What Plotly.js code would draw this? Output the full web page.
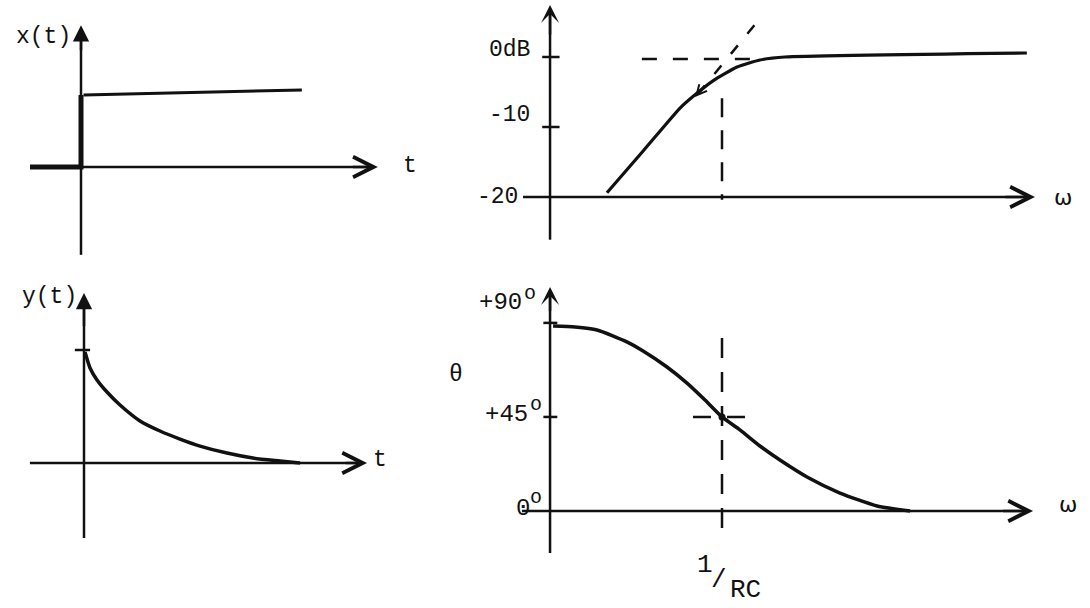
<!DOCTYPE html>
<html><head><meta charset="utf-8">
<script src="https://cdn.plot.ly/plotly-3.0.1.min.js"></script>
<style>html,body{margin:0;padding:0;background:#fff;} #chart{width:1090px;height:608px;}</style>
</head><body><div id="chart"></div>
<script>
// ---------------- DATA ----------------
// Panel 1 : step input x(t)
const stepT    = [-1, 0, 0];
const stepX    = [0, 0, 1];
const stepTopT = [0.05, 4.33];
const stepTopX = [1, 1.07];

// Panel 2 : output y(t) (decaying exponential)
const respT = [0.02, 0.118, 0.255, 0.451, 0.706, 1.098, 1.490, 1.882, 2.275, 2.804, 3.314, 3.843, 4.235];
const respY = [0.982, 0.841, 0.735, 0.628, 0.513, 0.372, 0.283, 0.212, 0.150, 0.088, 0.044, 0.018, 0];
const respTick = [1];

// Panel 3 : magnitude (dB) vs omega (normalised, 1 = 1/RC)
const magW  = [0.110, 0.222, 0.447, 0.596, 0.841, 1.334, 2.07, 3.35, 347];
const magDB = [-19.4, -13.36, -7.3, -5.4, -3.4, -1.43, -0.43, 0, 0.57];
const magTicks  = [0, -10];
const magLabels = ['0dB', '-10', '-20'];
const asymW  = [0.63, 1.96];     // dashed asymptote (slope part continued)
const asymDB = [-5.3, 5.0];
const flatW  = [0.215, 1.88];    // dashed 0 dB asymptote
const flatDB = [-0.3, -0.3];
const cornerW = 1;               // omega = 1/RC
const cornerDB = [-5.9, -20.4];

// Panel 4 : phase (degrees) vs omega
const phW   = [0.0391, 0.0596, 0.0908, 0.161, 0.220, 0.348, 0.511, 0.722, 1, 1.41, 2.07, 3.04, 5.11, 9.62, 19.6, 36.9];
const phDeg = [88.5, 88.0, 86.6, 80.9, 76.6, 68.9, 61.2, 53.1, 45, 38.8, 31.1, 24.4, 16.3, 8.6, 2.4, 0];
const phTicks  = [90, 45];
const phLabels = ['+90', '+45', '0'];
const degMark  = 'o';
const phCornerDeg = [82.8, -10.5];
const phCrossW = [0.573, 1.71];

// ---------------- LAYOUT HELPERS ----------------
const W = 1090, H = 608;
const FONT = 'Liberation Mono, Courier New, monospace';
const INK = '#111';
function axes(px0, px1, py0, py1, ox, sx, oy, sy, isLog) {
  return {
    x: {domain: [px0 / W, px1 / W], range: [(px0 - ox) / sx, (px1 - ox) / sx],
        type: isLog ? 'log' : 'linear', visible: false, fixedrange: true},
    y: {domain: [1 - py1 / H, 1 - py0 / H], range: [(oy - py1) / sy, (oy - py0) / sy],
        visible: false, fixedrange: true}
  };
}
const A1 = axes(0, 440, 0, 262, 81, 51, 167, 72, false);
const A2 = axes(0, 440, 270, 608, 84, 51, 463, 113, false);
const A3 = axes(440, 1090, 0, 262, 722, 120, 57, 7, true);
const A4 = axes(440, 1090, 270, 608, 722, 120, 511, 2.09, true);

const L = Math.log10;
const traces = [];
function line(xs, ys, ax, w, dash, extra) {
  traces.push(Object.assign({x: xs, y: ys, xaxis: ax[0], yaxis: ax[1], mode: 'lines',
    line: {color: INK, width: w, dash: dash || 'solid'}, hoverinfo: 'skip', cliponaxis: false}, extra || {}));
}
const P1 = ['x', 'y'], P2 = ['x2', 'y2'], P3 = ['x3', 'y3'], P4 = ['x4', 'y4'];
const axW3 = Math.pow(10, -1.433);   // omega position of the vertical axes (right panels)

// axis lines (drawn as traces)
line([-1, 5.7], [0, 0], P1, 2.5);
line([0, 0], [-1.22, 1.9], P1, 2.5);
line([-1.06, 5.43], [0, 0], P2, 2.5);
line([0, 0], [-0.664, 1.44], P2, 2.5);
line([Math.pow(10, -1.658), Math.pow(10, 2.57)], [-20, -20], P3, 2.5);
line([axW3, axW3], [-26.1, 6.8], P3, 2.5);
line([Math.pow(10, -1.667), Math.pow(10, 2.555)], [0, 0], P4, 2.5);
line([axW3, axW3], [-20.1, 104], P4, 2.5);

// Panel 1
line(stepT, stepX, P1, 5);
line(stepTopT, stepTopX, P1, 3);
// Panel 2
line(respT, respY, P2, 3.5, 'solid', {line: {color: INK, width: 3.5, shape: 'spline', smoothing: 0.6}});
respTick.forEach(v => line([-0.18, 0.12], [v, v], P2, 2.5));
// Panel 3
line(magW, magDB, P3, 3.2, 'solid', {line: {color: INK, width: 3.2, shape: 'spline', smoothing: 0.5}});
magTicks.forEach(v => line([axW3 * 0.86, axW3 * 1.2], [v, v], P3, 2.5));
line(flatW, flatDB, P3, 2.5, '15px,16px');
line(asymW, asymDB, P3, 2.5, '11px,15px');
line([cornerW, cornerW], cornerDB, P3, 2.5, '19px,13px');
// Panel 4
line(phW, phDeg, P4, 3.5, 'solid', {line: {color: INK, width: 3.5, shape: 'spline', smoothing: 0.6}});
phTicks.forEach(v => line([axW3 * 0.88, axW3 * 1.15], [v, v], P4, 2.5));
line([cornerW, cornerW], phCornerDeg, P4, 2.5, '20px,14px');
line(phCrossW, [45, 45], P4, 2.5, '18px,16px');
traces.push({x: [cornerW], y: [45], xaxis: 'x4', yaxis: 'y4', mode: 'markers',
  marker: {color: INK, size: 7}, hoverinfo: 'skip', cliponaxis: false});

// ---------------- ANNOTATIONS ----------------
const ann = [];
function arrow(ax, x0, y0, x1, y1, head, size, w) {
  ann.push({xref: ax[0], yref: ax[1], axref: ax[0], ayref: ax[1], x: x1, y: y1, ax: x0, ay: y0,
    text: '', showarrow: true, arrowhead: head, arrowsize: size, arrowwidth: w, arrowcolor: INK, standoff: 0});
}
function txt(ax, x, y, s, size, font, xa) {
  ann.push({xref: ax[0], yref: ax[1], x: x, y: y, text: s, showarrow: false,
    xanchor: xa || 'center', yanchor: 'middle', font: {family: font || FONT, size: size || 23, color: INK}});
}
// arrow heads of the axes
arrow(P1, 5.3, 0, 5.82, 0, 5, 1.6, 2.5);
arrow(P1, 0, 1.6, 0, 1.97, 2, 1.3, 2.5);
arrow(P2, 5.1, 0, 5.55, 0, 5, 1.6, 2.5);
arrow(P2, 0, 1.2, 0, 1.504, 2, 1.3, 2.5);
arrow(P3, 2.35, -20, 2.608, -20, 5, 1.6, 2.5);
arrow(P3, L(axW3), 3, L(axW3), 7.43, 3, 1.2, 2.5);
arrow(P4, 2.33, 0, 2.592, 0, 5, 1.6, 2.5);
arrow(P4, L(axW3), 95, L(axW3), 107.2, 3, 1.2, 2.5);
arrow(P3, L(0.735), -3.9, L(0.596), -5.7, 5, 1, 2);

txt(P1, -0.73, 1.81, 'x(t)');
txt(P1, 6.45, 0.02, 't');
txt(P2, -0.67, 1.47, 'y(t)');
txt(P2, 5.8, 0.03, 't');
txt(P3, -1.767, 1.0, magLabels[0]);
txt(P3, -1.767, -8.3, magLabels[1]);
txt(P3, -1.875, -20, magLabels[2]);
txt(P3, 2.842, -20, 'ω', 22, 'DejaVu Sans, sans-serif');
// phase labels with raised "o" degree marks
txt(P4, -1.85, 100, phLabels[0], 24);
txt(P4, L(Math.pow(10, -1.6)), 104.3, degMark, 20);
txt(P4, -1.80, 46, phLabels[1], 24);
txt(P4, -1.55, 51, degMark, 20);
txt(P4, -1.657, 1, phLabels[2], 24);
txt(P4, -1.55, 6.5, degMark, 20);
txt(P4, -2.22, 65, 'θ');
txt(P4, 2.883, 3, 'ω', 22, 'DejaVu Sans, sans-serif');
txt(P4, -0.142, -25.8, '1', 26);
txt(P4, -0.025, -33, '/', 26);
txt(P4, 0.192, -37.8, 'RC', 26);

const layout = {
  width: W, height: H, margin: {l: 0, r: 0, t: 0, b: 0, pad: 0},
  paper_bgcolor: '#fff', plot_bgcolor: 'rgba(0,0,0,0)', showlegend: false,
  xaxis: Object.assign(A1.x, {anchor: 'y'}),   yaxis: Object.assign(A1.y, {anchor: 'x'}),
  xaxis2: Object.assign(A2.x, {anchor: 'y2'}), yaxis2: Object.assign(A2.y, {anchor: 'x2'}),
  xaxis3: Object.assign(A3.x, {anchor: 'y3'}), yaxis3: Object.assign(A3.y, {anchor: 'x3'}),
  xaxis4: Object.assign(A4.x, {anchor: 'y4'}), yaxis4: Object.assign(A4.y, {anchor: 'x4'}),
  annotations: ann
};
Plotly.newPlot('chart', traces, layout, {staticPlot: true, displayModeBar: false});
</script></body></html>
